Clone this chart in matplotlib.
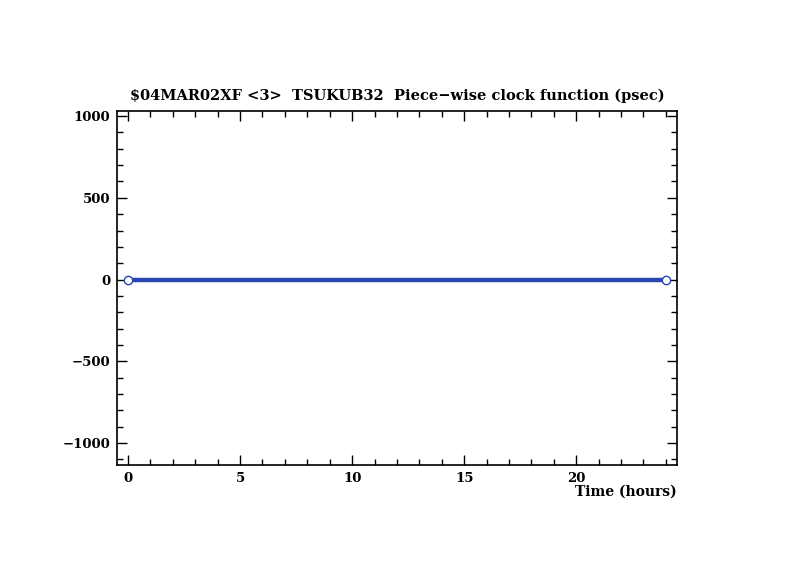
import matplotlib
matplotlib.use("Agg")
import matplotlib.pyplot as plt
from matplotlib.ticker import MultipleLocator

# clock function nodes (hours, psec)
hours = [0.0, 24.0]
clock_psec = [0.0, 0.0]

title = "$04MAR02XF <3>  TSUKUB32  Piece\u2212wise clock function (psec)"

plt.rcParams['font.family'] = ['DejaVu Serif']
plt.rcParams['font.weight'] = 'bold'

fig = plt.figure(figsize=(7.94, 5.77), dpi=100)
ax = fig.add_axes([0.1474, 0.1941, 0.7053, 0.6135])

ax.plot(hours, clock_psec, color='#2a44b0', lw=3.2, solid_capstyle='butt', zorder=2)
ax.plot(hours, clock_psec, 'o', ms=6, mfc='white', mec='#2a44b0', mew=1.0, zorder=3)

ax.set_xlim(-0.49, 24.5)
ax.set_ylim(-1134, 1031)

ax.xaxis.set_major_locator(MultipleLocator(5))
ax.xaxis.set_minor_locator(MultipleLocator(1))
ax.yaxis.set_major_locator(MultipleLocator(500))
ax.yaxis.set_minor_locator(MultipleLocator(100))
ax.tick_params(which='both', direction='in', top=True, right=True, labelsize=9.5, width=1.0)
ax.tick_params(which='major', length=7, pad=5)
ax.tick_params(which='minor', length=4)
for s in ax.spines.values():
    s.set_linewidth(1.2)

ax.set_title(title, fontsize=10.5, fontweight='bold', pad=8)
ax.set_xlabel("Time (hours)", fontsize=10, fontweight='bold', loc='right', labelpad=0)

fig.savefig("out.png", dpi=100)
